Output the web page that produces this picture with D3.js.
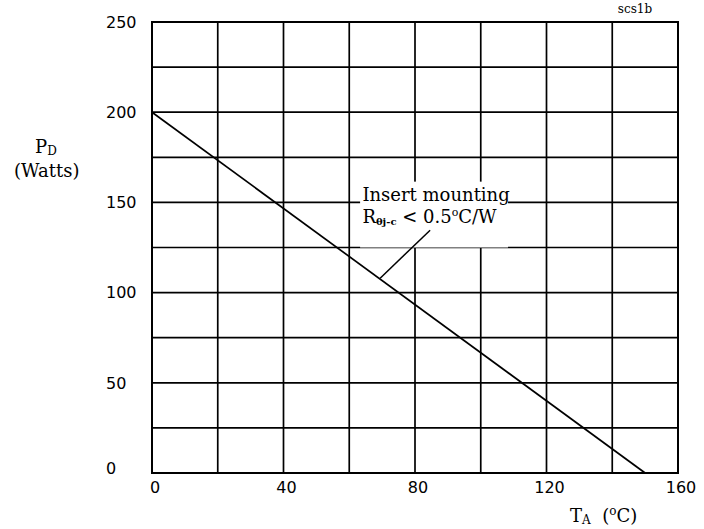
<!DOCTYPE html>
<meta charset="utf-8">
<title>Power derating</title>
<style>
body { margin: 0; background: #fff; }
.tick { font: 16px "DejaVu Sans", Arial, sans-serif; fill: #000; }
.ser { font-family: "DejaVu Serif", "Liberation Serif", serif; fill: #000; }
</style>
<svg width="704" height="529"></svg>
<script src="https://d3js.org/d3.v7.min.js"></script>
<script>
// axis ticks and grid
var xTicks = [0, 40, 80, 120, 160];
var yTicks = [0, 50, 100, 150, 200, 250];
var xGrid = [0, 20, 40, 60, 80, 100, 120, 140, 160];
var yGrid = [0, 25, 50, 75, 100, 125, 150, 175, 200, 225, 250];

// derating curve (TA in C, PD in W)
var tempA = [0, 150];
var powerD = [200, 0];

// leader of the annotation: from label to the curve
var leadT = [84.6, 69.4];
var leadP = [134.6, 108];

var svg = d3.select("svg");
svg.append("rect").attr("width", 704).attr("height", 529).attr("fill", "#fff");

var x = d3.scaleLinear().domain([0, 160]).range([152, 678]);
var y = d3.scaleLinear().domain([0, 250]).range([473, 22]);

var g = svg.append("g");

g.selectAll(".vg").data(xGrid).enter().append("line")
    .attr("x1", function(d) { return x(d); })
    .attr("x2", function(d) { return x(d); })
    .attr("y1", y(0)).attr("y2", y(250))
    .attr("stroke", "#000").attr("stroke-width", 1.7);

g.selectAll(".hg").data(yGrid).enter().append("line")
    .attr("y1", function(d) { return y(d); })
    .attr("y2", function(d) { return y(d); })
    .attr("x1", x(0)).attr("x2", x(160))
    .attr("stroke", "#000").attr("stroke-width", 1.7);

g.append("rect")
    .attr("x", x(0)).attr("y", y(250))
    .attr("width", x(160) - x(0)).attr("height", y(0) - y(250))
    .attr("fill", "none").attr("stroke", "#000").attr("stroke-width", 2);

// white patch behind the annotation
g.append("rect")
    .attr("x", x(63.3)).attr("y", y(161.5))
    .attr("width", x(108.3) - x(63.3)).attr("height", y(125) - y(161.5))
    .attr("fill", "#fff");

var line = d3.line()
    .x(function(d) { return x(d[0]); })
    .y(function(d) { return y(d[1]); });

g.append("path")
    .datum(d3.zip(tempA, powerD))
    .attr("d", line)
    .attr("fill", "none").attr("stroke", "#000").attr("stroke-width", 1.7);

g.append("path")
    .datum(d3.zip(leadT, leadP))
    .attr("d", line)
    .attr("fill", "none").attr("stroke", "#000").attr("stroke-width", 1.5);

// tick labels
svg.selectAll(".xl").data(xTicks).enter().append("text")
    .attr("class", "tick")
    .attr("x", function(d) { return x(d) + 3; })
    .attr("y", 493)
    .attr("text-anchor", "middle")
    .text(function(d) { return d; });

svg.selectAll(".yl").data(yTicks).enter().append("text")
    .attr("class", "tick")
    .attr("x", 106)
    .attr("y", function(d) { return d === 0 ? y(d) - 5 : y(d); })
    .attr("dy", "0.36em")
    .text(function(d) { return d; });

// axis titles
var py = svg.append("text").attr("class", "ser").attr("x", 35).attr("y", 153).attr("font-size", 18);
py.append("tspan").text("P");
py.append("tspan").attr("font-size", 12).attr("dy", 2).text("D");
svg.append("text").attr("class", "ser").attr("x", 14).attr("y", 177).attr("font-size", 18).text("(Watts)");

var tx = svg.append("text").attr("class", "ser").attr("x", 570).attr("y", 522).attr("font-size", 18);
tx.append("tspan").text("T");
tx.append("tspan").attr("font-size", 12).attr("dy", 2).text("A");
tx.append("tspan").attr("dy", -2).text("\u00a0\u00a0(");
tx.append("tspan").attr("font-size", 12).attr("dy", -7).text("o");
tx.append("tspan").attr("dy", 7).text("C)");

// annotation
svg.append("text").attr("class", "ser").attr("x", x(64)).attr("y", 201).attr("font-size", 18)
    .text("Insert mounting");
var an = svg.append("text").attr("class", "ser").attr("x", x(64)).attr("y", 223).attr("font-size", 18);
an.append("tspan").text("R");
an.append("tspan").attr("font-size", 10).attr("font-weight", "bold").attr("dy", 2).text("\u03b8j-c");
an.append("tspan").attr("dy", -2).text(" < 0.5");
an.append("tspan").attr("font-size", 11).attr("dy", -7).text("o");
an.append("tspan").attr("dy", 7).text("C/W");

svg.append("text").attr("class", "ser").attr("x", 635).attr("y", 13).attr("font-size", 12)
    .attr("text-anchor", "middle").text("scs1b");
</script>
